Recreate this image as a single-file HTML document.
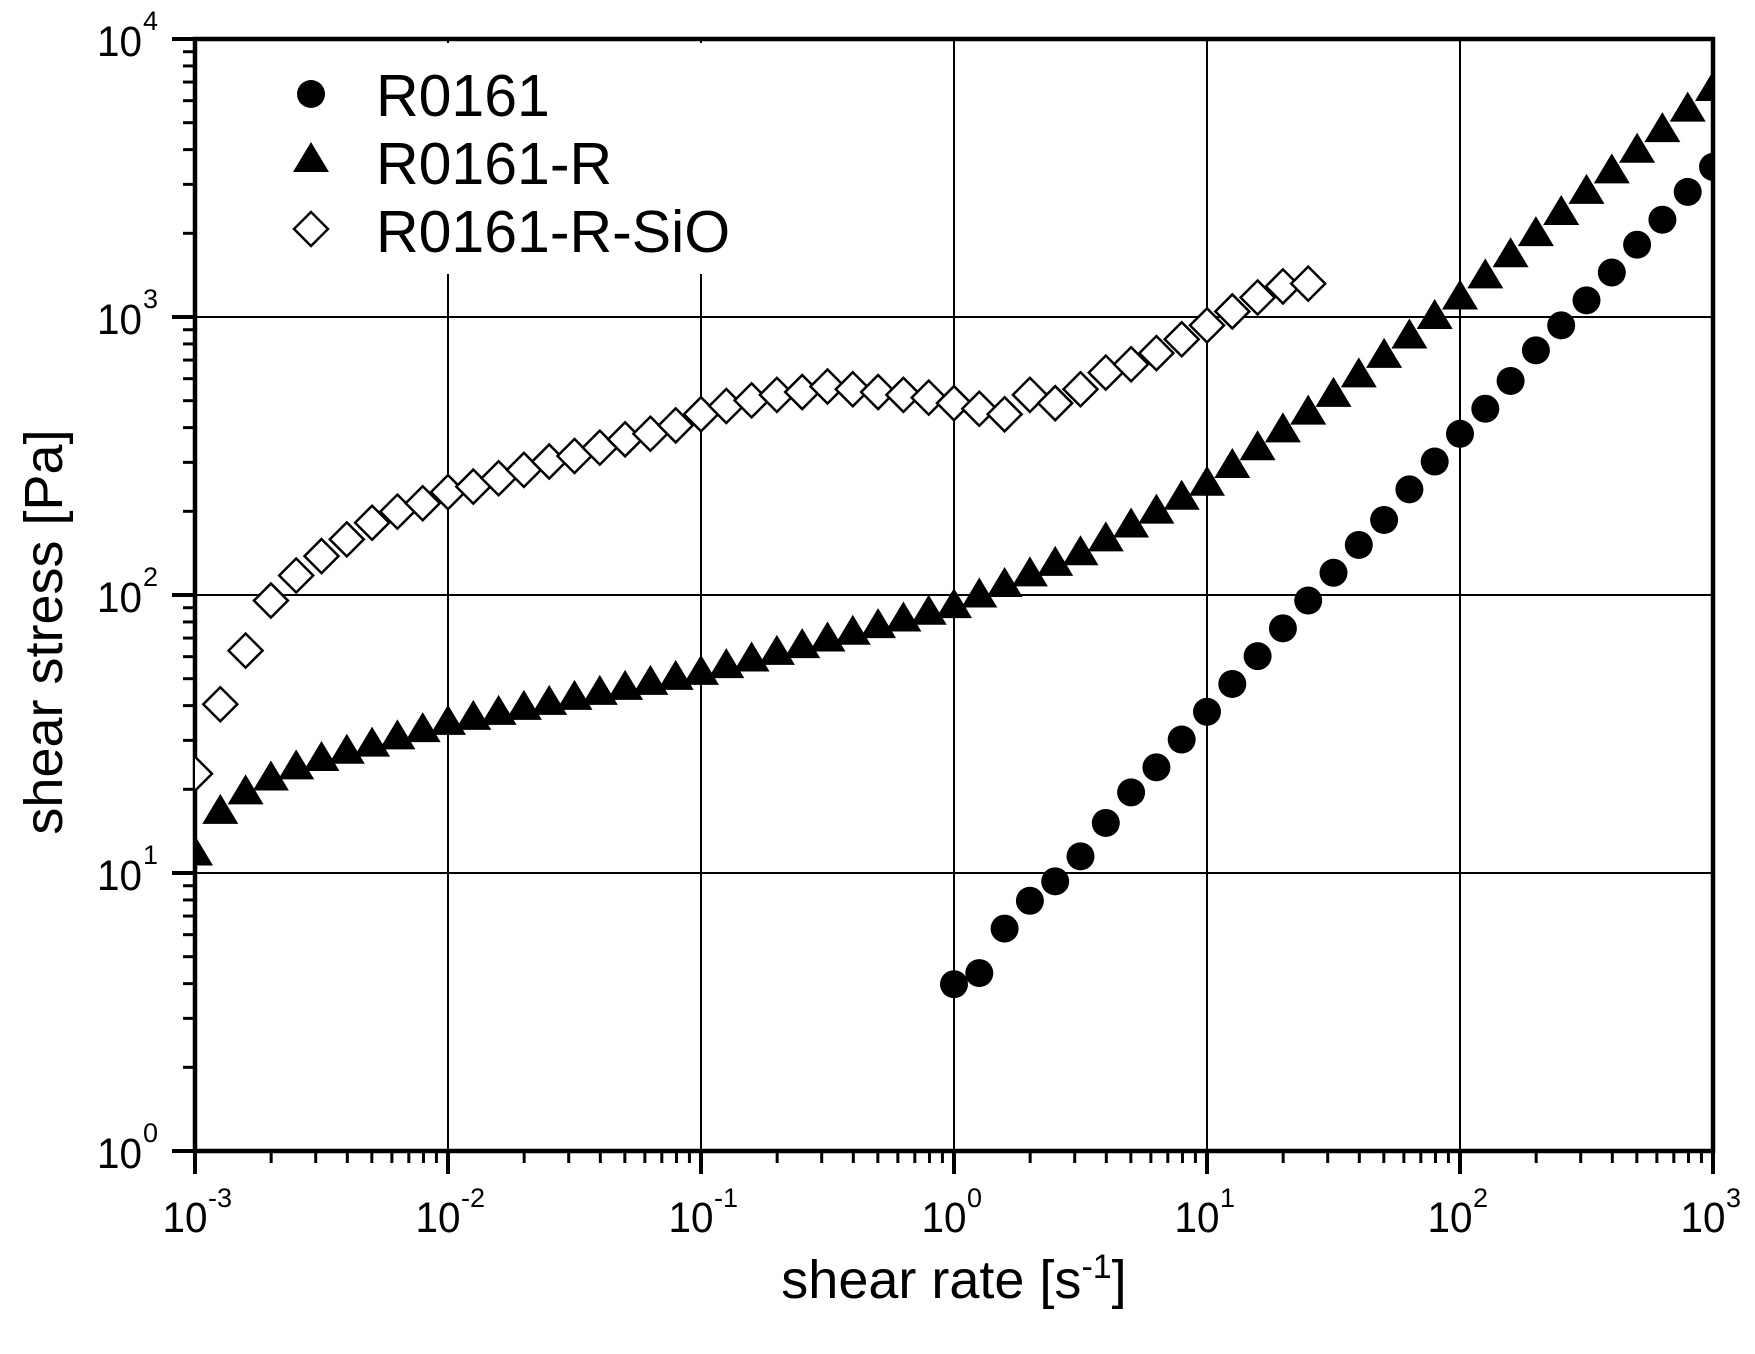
<!DOCTYPE html>
<html><head><meta charset="utf-8"><style>
html,body{margin:0;padding:0;background:#fff;}
svg{display:block;font-family:"Liberation Sans",Arial,sans-serif;}
</style></head><body>
<svg id="s" width="1755" height="1354" xmlns="http://www.w3.org/2000/svg"></svg>
<script>
const X0=195,X1=1713,Y0=1151,Y1=39;
const xs=lx=>X0+(lx+3)*(X1-X0)/6, ys=ly=>Y0-ly*(Y0-Y1)/4;
let h='<rect width="1755" height="1354" fill="#fff"/>';
for(let d=-2;d<=2;d++){h+=`<line x1="${xs(d)}" y1="${Y1}" x2="${xs(d)}" y2="${Y0}" stroke="#000" stroke-width="2"/>`;}
for(let d=1;d<=3;d++){h+=`<line x1="${X0}" y1="${ys(d)}" x2="${X1}" y2="${ys(d)}" stroke="#000" stroke-width="2"/>`;}
h+='<rect x="198" y="43" width="530" height="231" fill="#fff"/>';
for(let d=-3;d<=3;d++){
 const x=xs(d);h+=`<line x1="${x}" y1="${Y0}" x2="${x}" y2="${Y0+23}" stroke="#000" stroke-width="4"/>`;
 h+=`<text x="${x-10}" y="1232" font-size="43" text-anchor="middle" textLength="45" lengthAdjust="spacingAndGlyphs">10</text><text x="${x+13}" y="1207" font-size="27">${d}</text>`;
 if(d<3)for(let k=2;k<=9;k++){const xm=xs(d+Math.log10(k));h+=`<line x1="${xm}" y1="${Y0}" x2="${xm}" y2="${Y0+12}" stroke="#000" stroke-width="3"/>`;}
}
for(let d=0;d<=4;d++){
 const y=ys(d);h+=`<line x1="${X0}" y1="${y}" x2="${X0-23}" y2="${y}" stroke="#000" stroke-width="4"/>`;
 h+=`<text x="142" y="${y+17}" font-size="43" text-anchor="end" textLength="45" lengthAdjust="spacingAndGlyphs">10</text><text x="143" y="${y-9}" font-size="27">${d}</text>`;
 if(d<4)for(let k=2;k<=9;k++){const ym=ys(d+Math.log10(k));h+=`<line x1="${X0}" y1="${ym}" x2="${X0-12}" y2="${ym}" stroke="#000" stroke-width="3"/>`;}
}
h+=`<rect x="${X0}" y="${Y1}" width="${X1-X0}" height="${Y0-Y1}" fill="none" stroke="#000" stroke-width="4.5"/>`;
function interp(pts,x){for(let i=0;i<pts.length-1;i++){if(x<=pts[i+1][0]+1e-9){const[a,b]=pts[i],[c,e]=pts[i+1];return b+(e-b)*(x-a)/(c-a);}}return pts[pts.length-1][1];}
const tri=[[-3,1.07],[-2.9,1.22],[-2.8,1.29],[-2.7,1.34],[-2.6,1.38],[-2.5,1.41],[-2,1.54],[-1,1.72],[0,1.96],[0.5,2.15],[1,2.40],[1.5,2.72],[2,3.07],[2.5,3.45],[3,3.82]];
const circ=[0.60,0.64,0.80,0.90,0.97,1.06,1.18,1.29,1.38,1.48,1.58,1.68,1.78,1.88,1.98,2.08,2.18,2.27,2.38,2.48,2.58,2.67,2.77,2.88,2.97,3.06,3.16,3.26,3.35,3.45,3.54];
const dia=[1.357,1.607,1.80,1.98,2.07,2.14,2.20,2.26,2.30,2.33,2.37,2.39,2.42,2.45,2.48,2.50,2.53,2.56,2.58,2.61,2.65,2.68,2.70,2.72,2.73,2.75,2.74,2.73,2.72,2.71,2.69,2.67,2.65,2.72,2.69,2.74,2.80,2.83,2.87,2.92,2.97,3.02,3.07,3.11,3.12];
const T=(x,y)=>`<polygon points="${x-18},${y+12} ${x+18},${y+12} ${x},${y-18}" fill="#000"/>`;
const C=(x,y)=>`<circle cx="${x}" cy="${y}" r="14" fill="#000"/>`;
const D=(x,y)=>`<polygon points="${x},${y-17} ${x+17},${y} ${x},${y+17} ${x-17},${y}" fill="#fff" stroke="#000" stroke-width="2.5"/>`;
let clip='<clipPath id="c"><rect x="'+X0+'" y="'+Y1+'" width="'+(X1-X0)+'" height="'+(Y0-Y1)+'"/></clipPath><g clip-path="url(#c)">';
let g='';
for(let i=0;i<=60;i++){const lx=-3+i*0.1;g+=T(xs(lx),ys(interp(tri,lx)));}
circ.forEach((v,i)=>{g+=C(xs(i*0.1),ys(v));});
dia.forEach((v,i)=>{g+=D(xs(-3+i*0.1),ys(v));});
h+=clip+g+'</g>';
h+=C(311,94)+T(311,160)+D(311,229);
h+=`<text x="376" y="116" font-size="59">R0161</text><text x="376" y="184" font-size="59">R0161-R</text><text x="376" y="252" font-size="59">R0161-R-SiO</text>`;
h+=`<text x="954" y="1298" font-size="54" text-anchor="middle">shear rate [s<tspan dy="-20" font-size="34">-1</tspan><tspan dy="20">]</tspan></text>`;
h+=`<text transform="translate(62,632) rotate(-90)" font-size="54" text-anchor="middle">shear stress [Pa]</text>`;
document.getElementById('s').innerHTML=h;
</script>
</body></html>
